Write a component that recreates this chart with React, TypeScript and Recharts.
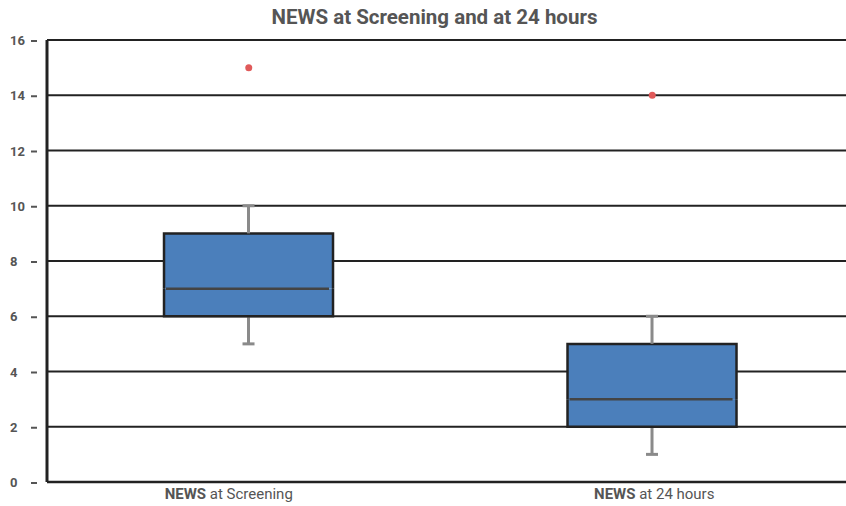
import React from 'react';
import { ComposedChart, Bar, Scatter, XAxis, YAxis, CartesianGrid } from 'recharts';

// box plot values
const categories = ['Screening', '24 hours'];
const minValues = [5, 1];
const q1Values = [6, 2];
const medianValues = [7, 3];
const q3Values = [9, 5];
const maxValues = [10, 6];
const outliers = [15, 14];
const yTicks = [0, 2, 4, 6, 8, 10, 12, 14, 16];

const data = categories.map((name, i) => ({
  name,
  base: minValues[i],
  lowWhisker: q1Values[i] - minValues[i],
  boxLow: medianValues[i] - q1Values[i],
  boxHigh: q3Values[i] - medianValues[i],
  highWhisker: maxValues[i] - q3Values[i],
  outlier: outliers[i],
}));

const FONT = 'Roboto, "DejaVu Sans", sans-serif';
const TEXT = '#555';
const BOX_FILL = '#4b7fbb';
const BOX_STROKE = '#222';
const WHISKER = '#8a8a8a';

const LowWhisker = (props: any) => {
  const { x, y, width, height } = props;
  const cx = x + width / 2;
  return (
    <g>
      <line x1={cx} x2={cx} y1={y} y2={y + height} stroke={WHISKER} strokeWidth={3} />
      <line x1={cx - 6} x2={cx + 6} y1={y + height} y2={y + height} stroke={WHISKER} strokeWidth={3} />
    </g>
  );
};

const HighWhisker = (props: any) => {
  const { x, y, width, height } = props;
  const cx = x + width / 2;
  return (
    <g>
      <line x1={cx} x2={cx} y1={y} y2={y + height} stroke={WHISKER} strokeWidth={3} />
      <line x1={cx - 6} x2={cx + 6} y1={y} y2={y} stroke={WHISKER} strokeWidth={3} />
    </g>
  );
};

const BoxLow = (props: any) => {
  const { x, y, width, height } = props;
  return (
    <g>
      <rect x={x} y={y} width={width} height={height} fill={BOX_FILL} />
      <path
        d={`M${x},${y} L${x},${y + height} L${x + width},${y + height} L${x + width},${y}`}
        fill="none"
        stroke={BOX_STROKE}
        strokeWidth={2.5}
      />
    </g>
  );
};

const BoxHigh = (props: any) => {
  const { x, y, width, height } = props;
  return (
    <g>
      <rect x={x} y={y} width={width} height={height} fill={BOX_FILL} />
      <path
        d={`M${x},${y + height} L${x},${y} L${x + width},${y} L${x + width},${y + height}`}
        fill="none"
        stroke={BOX_STROKE}
        strokeWidth={2.5}
      />
      {/* median */}
      <line x1={x + 2} x2={x + width - 4} y1={y + height} y2={y + height} stroke="#444" strokeWidth={2.5} />
    </g>
  );
};

const YTick = (props: any) => {
  const { y, payload } = props;
  return (
    <g>
      <text x={10} y={y + 5} textAnchor="start" fill={TEXT} fontSize={13} fontWeight={700} fontFamily={FONT}>
        {payload.value}
      </text>
      <line x1={31} x2={37} y1={y + 1} y2={y + 1} stroke={TEXT} strokeWidth={2} />
    </g>
  );
};

const XTick = (props: any) => {
  const { x, y, payload, index } = props;
  // first label sits a little left of its box in the original
  const dx = index === 0 ? -20 : 2;
  return (
    <text x={x + dx} y={y + 9} textAnchor="middle" fill={TEXT} fontSize={15} fontFamily={FONT}>
      <tspan fontWeight={700}>NEWS</tspan>
      <tspan> at {payload.value}</tspan>
    </text>
  );
};

export default function App() {
  return (
    <div style={{ position: 'absolute', left: 0, top: 0, width: 846, height: 506, background: '#fff' }}>
      <div
        style={{
          position: 'absolute',
          top: 4,
          left: 0,
          width: 869,
          textAlign: 'center',
          fontFamily: FONT,
          fontWeight: 700,
          fontSize: 20.5,
          lineHeight: '26px',
          color: TEXT,
        }}
      >
        NEWS at Screening and at 24 hours
      </div>
      <div style={{ position: 'absolute', left: 0, top: 0 }}>
        <ComposedChart
          width={846}
          height={506}
          data={data}
          margin={{ top: 40, right: -8, bottom: 0, left: 0 }}
          barCategoryGap="29%"
        >
          <CartesianGrid vertical={false} stroke="#222" strokeWidth={2} />
          <XAxis
            dataKey="name"
            axisLine={{ stroke: '#222', strokeWidth: 2.5 }}
            tickLine={false}
            tick={<XTick />}
            height={24}
          />
          <YAxis
            type="number"
            domain={[0, 16]}
            ticks={yTicks}
            width={47}
            axisLine={{ stroke: '#222', strokeWidth: 3 }}
            tickLine={false}
            tick={<YTick />}
          />
          <Bar dataKey="base" stackId="box" fill="transparent" isAnimationActive={false} />
          <Bar dataKey="lowWhisker" stackId="box" shape={<LowWhisker />} isAnimationActive={false} />
          <Bar dataKey="boxLow" stackId="box" shape={<BoxLow />} isAnimationActive={false} />
          <Bar dataKey="boxHigh" stackId="box" shape={<BoxHigh />} isAnimationActive={false} />
          <Bar dataKey="highWhisker" stackId="box" shape={<HighWhisker />} isAnimationActive={false} />
          <Scatter
            dataKey="outlier"
            isAnimationActive={false}
            shape={(p: any) => <circle cx={p.cx} cy={p.cy} r={3.5} fill="#e05a5a" />}
          />
        </ComposedChart>
      </div>
    </div>
  );
}
